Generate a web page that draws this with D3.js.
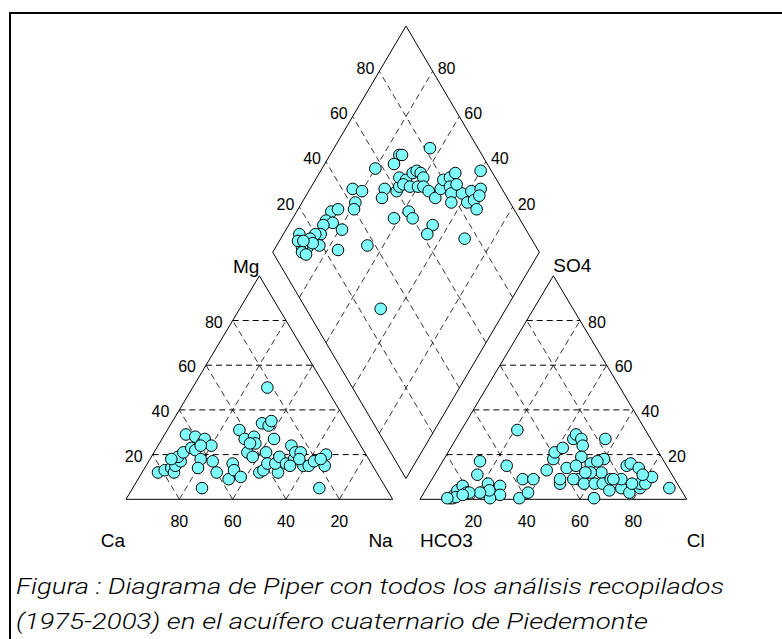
<!DOCTYPE html>
<meta charset="utf-8">

<script src="https://d3js.org/d3.v7.min.js"></script>

<style type="text/css">

body {
  margin: 0;
  background: #fff;
}

.frame {
  fill: none;
  stroke: #000;
  stroke-width: 2;
}

.outline {
  fill: none;
  stroke: #000;
  stroke-width: 1;
}

/* horizontal grid lines of the triangles */
.gridH {
  stroke: #000;
  stroke-width: 1;
  stroke-dasharray: 6 4;
}

/* slanted grid lines */
.gridD {
  stroke: #000;
  stroke-width: 0.8;
  stroke-dasharray: 6 4;
}

.tick {
  font-family: "Liberation Sans", Arial, sans-serif;
  font-size: 16px;
  fill: #000;
}

.corner {
  font-family: "Liberation Sans", Arial, sans-serif;
  font-size: 19px;
  fill: #000;
}

.sample {
  fill: #80ffff;
  stroke: #000;
  stroke-width: 1;
}

.caption {
  font-family: Roboto, "Open Sans", sans-serif;
  font-style: italic;
  font-weight: 300;
  font-size: 22px;
  fill: #000;
}

</style>

<body>
</body>

<script>

  // CATION TRIANGLE (Mg %, Na %)
  const cationMg = [50, 5, 5, 12, 13, 14, 12, 15, 17, 19, 21, 29, 23, 22, 28, 25, 27, 24, 18, 14,
                    17, 12, 9, 16, 13, 10, 31, 27, 21, 19, 28, 25, 34, 33, 35, 27, 21, 12, 13, 16,
                    12, 16, 19, 16, 24, 18, 21, 21, 15, 15, 17, 15, 20, 18, 15, 25, 24, 18, 18];
  const cationNa = [28, 70, 26, 6, 8, 10, 12, 11, 12, 10, 11, 8, 13, 15, 12, 16, 16, 20, 19, 20,
                    24, 28, 34, 32, 34, 38, 27, 31, 35, 38, 34, 36, 34, 37, 37, 42, 42, 44, 45, 45,
                    51, 48, 48, 52, 50, 54, 53, 55, 59, 61, 62, 67, 65, 56, 54, 34, 16, 8, 64];

  // ANION TRIANGLE (SO4 %, Cl %)
  const anionSO4 = [31, 17, 11, 15, 7, 6, 2, 0.5, 4, 3, 0.5, 0.5, 2, 4, 6, 3, 3, 1, 2, 0.5,
                    0.5, 3, 9, 9, 13, 18, 21, 23, 7, 9, 14, 27, 29, 27, 24, 19, 15, 9, 7, 12,
                    16, 0.5, 7, 12, 18, 27, 7, 4, 9, 5, 9, 15, 3, 16, 14, 5, 7, 7, 10, 11,
                    5, 7, 9, 12, 9, 17, 12];
  const anionCl = [21, 14, 16, 25, 22, 27, 29, 26, 24, 21, 11, 12, 12, 12, 13, 16, 17, 13, 15, 10,
                   37, 39, 34, 38, 41, 41, 40, 42, 49, 48, 48, 44, 44, 47, 49, 51, 51, 55, 58, 57,
                   56, 65, 62, 62, 60, 56, 65, 69, 67, 73, 71, 70, 77, 71, 75, 80, 79, 81, 82, 78,
                   91, 76, 68, 58, 53, 58, 56];

  // DIAMOND (Ca+Mg %, SO4+Cl %)
  const diamondCaMg = [64, 74, 73, 74, 80, 84, 80, 80, 79, 72, 71, 67, 67, 69, 66, 65, 64, 62, 60, 66,
                       63, 60, 58, 55, 51, 51, 52, 50, 49, 48, 46, 44, 42, 38, 39, 36, 33, 36, 40, 35,
                       46, 58, 55, 62, 46, 46, 31, 87, 85, 87, 84, 79, 87, 86, 88, 89, 88, 90, 94, 93,
                       89, 87, 84, 76, 66, 87, 91, 47];
  const diamondSO4Cl = [82, 69, 70, 65, 57, 44, 47, 42, 40, 56, 53, 60, 62, 64, 66, 70, 72, 73, 73, 64,
                        66, 69, 71, 72, 73, 77, 80, 83, 86, 81, 80, 78, 84, 84, 88, 87, 86, 92, 96, 90,
                        84, 60, 60, 53, 66, 62, 75, 31, 34, 27, 29, 31, 25, 22, 20, 17, 14, 12, 14, 12,
                        11, 12, 19, 25, 37, 17, 14, 28];

  const tickValues = [20, 40, 60, 80];
  const captionLines = [
    "Figura : Diagrama de Piper con todos los análisis recopilados",
    "(1975-2003) en el acuífero cuaternario de Piedemonte"
  ];

  const width = 782;
  const height = 639;
  const side = 266.7;     // triangle base
  const triH = 223.5;     // triangle height
  const baseY = 499.3;
  const leftX = 126;
  const rightX = 420;
  const dBottom = {x: 406, y: 478.5};
  const dHalfW = 133.3;
  const dHalfH = 226.25;
  const radius = 5.8;

  const svg = d3.select("body").append("svg")
    .attr("width", width)
    .attr("height", height);

  // frame (open to the right and bottom, as in the page scan)
  svg.append("path")
    .attr("class", "frame")
    .attr("d", "M10," + height + " V13 H" + width);

  const tx = d3.scaleLinear().domain([0, 100]).range([0, side]);
  const ty = d3.scaleLinear().domain([0, 100]).range([baseY, baseY - triH]);
  const dx = d3.scaleLinear().domain([0, 100]).range([0, dHalfW]);
  const dy = d3.scaleLinear().domain([0, 100]).range([0, dHalfH]);

  function cationXY(mg, na) { return [leftX + tx(na + mg / 2), ty(mg)]; }
  function anionXY(so4, cl) { return [rightX + tx(cl + so4 / 2), ty(so4)]; }
  function diamondXY(camg, so4cl) {
    return [dBottom.x + dx(so4cl) - dx(camg), dBottom.y - dy(camg) - dy(so4cl)];
  }

  const line = d3.line();

  function drawSeg(g, cls, p1, p2) {
    g.append("path").attr("class", cls).attr("d", line([p1, p2]));
  }

  // triangles: pos(top component, right component)
  function drawTriangle(pos) {
    const g = svg.append("g");
    tickValues.forEach(function(v) {
      drawSeg(g, "gridD", pos(0, v), pos(100 - v, v));
      drawSeg(g, "gridD", pos(0, 100 - v), pos(100 - v, 0));
    });
    tickValues.forEach(function(v) {
      drawSeg(g, "gridH", pos(v, 0), pos(v, 100 - v));
    });
    g.append("path")
      .attr("class", "outline")
      .attr("d", line([pos(0, 0), pos(0, 100), pos(100, 0)]) + "Z");
  }

  drawTriangle(cationXY);
  drawTriangle(anionXY);

  // diamond
  const dg = svg.append("g");
  tickValues.forEach(function(v) {
    drawSeg(dg, "gridD", diamondXY(v, 0), diamondXY(v, 100));
    drawSeg(dg, "gridD", diamondXY(0, v), diamondXY(100, v));
  });
  dg.append("path")
    .attr("class", "outline")
    .attr("d", line([diamondXY(0, 0), diamondXY(100, 0), diamondXY(100, 100), diamondXY(0, 100)]) + "Z");

  // SAMPLES
  function drawSamples(aVals, bVals, pos) {
    svg.append("g").selectAll("circle")
      .data(aVals).enter().append("circle")
      .attr("class", "sample")
      .attr("r", radius)
      .attr("cx", function(d, i) { return pos(d, bVals[i])[0]; })
      .attr("cy", function(d, i) { return pos(d, bVals[i])[1]; });
  }

  drawSamples(cationMg, cationNa, cationXY);
  drawSamples(anionSO4, anionCl, anionXY);
  drawSamples(diamondCaMg, diamondSO4Cl, diamondXY);

  // TICK LABELS
  function label(x, y, txt, anchor, cls) {
    svg.append("text")
      .attr("class", cls || "tick")
      .attr("x", x)
      .attr("y", y)
      .attr("text-anchor", anchor)
      .text(txt);
  }

  tickValues.forEach(function(v) {
    // Ca along the bottom of the cation triangle
    label(cationXY(0, 100 - v)[0], 527, v, "middle");
    // Mg up the left side
    let p = cationXY(v, 0);
    label(p[0] - 10, p[1] + 7, v, "end");
    // Cl along the bottom of the anion triangle
    label(anionXY(0, v)[0], 527, v, "middle");
    // SO4 up the right side
    p = anionXY(v, 100 - v);
    label(p[0] + 8, p[1] + 7, v, "start");
    // diamond upper edges
    p = diamondXY(100, v);
    label(p[0] - 5, p[1] + 2.5, v, "end");
    p = diamondXY(v, 100);
    label(p[0] + 5, p[1] + 2.5, v, "start");
  });

  // CORNER LABELS
  const mgApex = cationXY(100, 0);
  const so4Apex = anionXY(100, 0);
  label(leftX - 1, 547, "Ca", "end", "corner");
  label(leftX + side, 547, "Na", "end", "corner");
  label(mgApex[0], 273, "Mg", "end", "corner");
  label(rightX, 547, "HCO3", "start", "corner");
  label(rightX + side, 547, "Cl", "start", "corner");
  label(so4Apex[0], 272, "SO4", "start", "corner");

  // CAPTION
  svg.append("text")
    .attr("class", "caption")
    .attr("x", 16)
    .attr("y", 594)
    .attr("textLength", 708)
    .attr("lengthAdjust", "spacingAndGlyphs")
    .text(captionLines[0]);

  svg.append("text")
    .attr("class", "caption")
    .attr("x", 16)
    .attr("y", 629)
    .attr("textLength", 632)
    .attr("lengthAdjust", "spacingAndGlyphs")
    .text(captionLines[1]);

</script>
